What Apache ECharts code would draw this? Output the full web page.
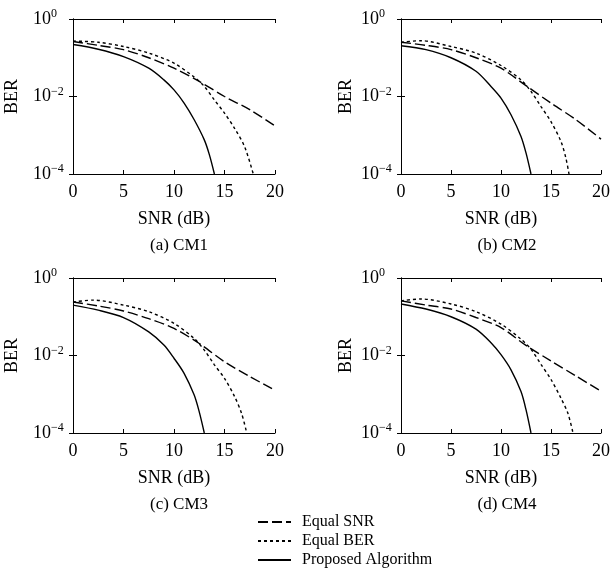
<!DOCTYPE html>
<html>
<head>
<meta charset="utf-8">
<script src="https://cdn.jsdelivr.net/npm/echarts@6/dist/echarts.min.js"></script>
<style>
html, body { margin: 0; padding: 0; background: #fff; }
#chart { width: 613px; height: 573px; }
</style>
</head>
<body>
<div id="chart"></div>
<script>
// data (SNR in dB, BER)
var captions = ['(a) CM1', '(b) CM2', '(c) CM3', '(d) CM4'];
var seriesNames = ['Equal SNR', 'Equal BER', 'Proposed Algorithm'];

var cm1_snr_x = [0, 2.5, 5, 7.5, 10, 12.5, 15, 17.5, 20];
var cm1_snr_y = [0.263, 0.209, 0.162, 0.1, 0.0537, 0.0245, 0.01, 0.00457, 0.00174];
var cm1_ber_x = [0, 2.5, 5, 7.5, 10, 12, 13, 14, 15, 16, 17, 17.85];
var cm1_ber_y = [0.27, 0.251, 0.195, 0.132, 0.0724, 0.0316, 0.0182, 0.00813, 0.00372, 0.00151, 0.0005, 0.0001];
var cm1_pro_x = [0, 2.5, 5, 7.5, 9, 10, 11, 12, 13, 13.5, 14];
var cm1_pro_y = [0.219, 0.166, 0.107, 0.0537, 0.0269, 0.0148, 0.00676, 0.00251, 0.000759, 0.000316, 0.0001];

var cm2_snr_x = [0, 2.5, 5, 7.5, 10, 12.5, 15, 17.5, 20];
var cm2_snr_y = [0.251, 0.209, 0.162, 0.1, 0.0537, 0.0191, 0.00676, 0.00251, 0.000794];
var cm2_ber_x = [0, 2, 5, 7.5, 10, 12, 13, 14, 15, 16, 16.5, 16.8];
var cm2_ber_y = [0.251, 0.275, 0.195, 0.132, 0.0631, 0.0269, 0.0135, 0.0055, 0.00224, 0.00069, 0.00025, 0.0001];
var cm2_pro_x = [0, 2.5, 5, 7.5, 9, 10, 11, 12, 12.5, 13];
var cm2_pro_y = [0.204, 0.162, 0.1, 0.0447, 0.0182, 0.00912, 0.00339, 0.00093, 0.00035, 0.0001];

var cm3_snr_x = [0, 2.5, 5, 7.5, 10, 12.5, 15, 17.5, 20];
var cm3_snr_y = [0.24, 0.19, 0.141, 0.089, 0.05, 0.0204, 0.0069, 0.00288, 0.00126];
var cm3_ber_x = [0, 2, 5, 7.5, 10, 12, 13, 14, 15, 16, 16.7, 17.2];
var cm3_ber_y = [0.24, 0.269, 0.2, 0.135, 0.0676, 0.0275, 0.0138, 0.00575, 0.00257, 0.00087, 0.000316, 0.0001];
var cm3_pro_x = [0, 2.5, 5, 7.5, 9, 10, 11, 12, 12.5, 13];
var cm3_pro_y = [0.2, 0.148, 0.0955, 0.0407, 0.0186, 0.0085, 0.00347, 0.00095, 0.00035, 0.0001];

var cm4_snr_x = [0, 2.5, 5, 7.5, 10, 12.5, 15, 17.5, 20];
var cm4_snr_y = [0.257, 0.2, 0.158, 0.0955, 0.0525, 0.0182, 0.00724, 0.00295, 0.0012];
var cm4_ber_x = [0, 2, 5, 7.5, 10, 12, 13, 14, 15, 16, 16.7, 17.2];
var cm4_ber_y = [0.257, 0.288, 0.214, 0.135, 0.0646, 0.0263, 0.0145, 0.00589, 0.0024, 0.00079, 0.000316, 0.0001];
var cm4_pro_x = [0, 2.5, 5, 7.5, 9, 10, 11, 12, 12.5, 13];
var cm4_pro_y = [0.214, 0.158, 0.1, 0.0479, 0.0214, 0.0105, 0.00427, 0.00117, 0.0004, 0.0001];

var panels = [
    [[cm1_snr_x, cm1_snr_y], [cm1_ber_x, cm1_ber_y], [cm1_pro_x, cm1_pro_y]],
    [[cm2_snr_x, cm2_snr_y], [cm2_ber_x, cm2_ber_y], [cm2_pro_x, cm2_pro_y]],
    [[cm3_snr_x, cm3_snr_y], [cm3_ber_x, cm3_ber_y], [cm3_pro_x, cm3_pro_y]],
    [[cm4_snr_x, cm4_snr_y], [cm4_ber_x, cm4_ber_y], [cm4_pro_x, cm4_pro_y]]
];

var FONT = '"Liberation Serif", "Times New Roman", serif';
var lineTypes = [[10, 4], [3, 3], 'solid'];
var gridBoxes = [
    {left: 73, top: 19, width: 202, height: 155},
    {left: 401, top: 19, width: 202, height: 155},
    {left: 73, top: 278, width: 202, height: 155},
    {left: 401, top: 278, width: 202, height: 155}
];
var berGaps = [52, 46, 52, 46];

function zip(xs, ys) {
    var out = [];
    for (var i = 0; i < xs.length; i++) out.push([xs[i], ys[i]]);
    return out;
}

function expLabel(v) {
    var e = Math.round(Math.log(v) / Math.LN10);
    return '{b|10}{s|' + (e < 0 ? '\u2212' + (-e) : e) + '}';
}

var grids = [], xAxes = [], yAxes = [], series = [], titles = [];
for (var p = 0; p < 4; p++) {
    grids.push(gridBoxes[p]);
    var axLine = {show: true, lineStyle: {color: '#000', width: 1}};
    var tick = {show: true, inside: true, length: 4, lineStyle: {color: '#000'}};
    xAxes.push({
        gridIndex: p, type: 'value', min: 0, max: 20, interval: 5,
        name: 'SNR (dB)', nameLocation: 'middle', nameGap: 36,
        nameTextStyle: {fontFamily: FONT, fontSize: 18, color: '#000'},
        axisLine: axLine, axisTick: tick, splitLine: {show: false},
        axisLabel: {fontFamily: FONT, fontSize: 18, color: '#000', margin: 9}
    });
    xAxes.push({
        gridIndex: p, type: 'value', min: 0, max: 20, interval: 5, position: 'top',
        axisLine: axLine, axisTick: tick, splitLine: {show: false}, axisLabel: {show: false}
    });
    yAxes.push({
        gridIndex: p, type: 'log', logBase: 10, min: 1e-4, max: 1, interval: 2,
        name: 'BER', nameLocation: 'middle', nameGap: berGaps[p],
        nameTextStyle: {fontFamily: FONT, fontSize: 18, color: '#000'},
        axisLine: axLine, axisTick: tick, splitLine: {show: false}, minorTick: {show: false},
        axisLabel: {
            margin: 40, align: 'left', formatter: expLabel,
            rich: {
                b: {fontFamily: FONT, fontSize: 18, color: '#000'},
                s: {fontFamily: FONT, fontSize: 12, color: '#000', padding: [0, 0, 10, 0]}
            }
        }
    });
    yAxes.push({
        gridIndex: p, type: 'log', logBase: 10, min: 1e-4, max: 1, interval: 2, position: 'right',
        axisLine: axLine, axisTick: tick, splitLine: {show: false}, axisLabel: {show: false}
    });
    for (var s = 0; s < 3; s++) {
        series.push({
            name: seriesNames[s], type: 'line', xAxisIndex: p * 2, yAxisIndex: p * 2,
            data: zip(panels[p][s][0], panels[p][s][1]),
            smooth: 0.3, symbol: 'none', silent: true,
            lineStyle: {color: '#000', width: 1.4, type: lineTypes[s]},
            itemStyle: {color: '#000'}
        });
    }
    var b = gridBoxes[p];
    titles.push({
        text: captions[p], left: b.left + b.width / 2, top: b.top + b.height + 58,
        textAlign: 'center',
        textStyle: {fontFamily: FONT, fontSize: 17, fontWeight: 'normal', color: '#000'}
    });
}

var myChart = echarts.init(document.getElementById('chart'));
var option = {
    backgroundColor: '#fff',
    animation: false,
    title: titles,
    grid: grids,
    xAxis: xAxes,
    yAxis: yAxes,
    legend: {
        data: seriesNames, orient: 'vertical', left: 257, top: 514, height: 70,
        padding: 0, itemWidth: 33, itemHeight: 14, itemGap: 3,
        itemStyle: {opacity: 0},
        textStyle: {fontFamily: FONT, fontSize: 16, color: '#000', padding: [0, 0, 0, 6]},
        selectedMode: false
    },
    series: series
};
myChart.setOption(option);
</script>
</body>
</html>
